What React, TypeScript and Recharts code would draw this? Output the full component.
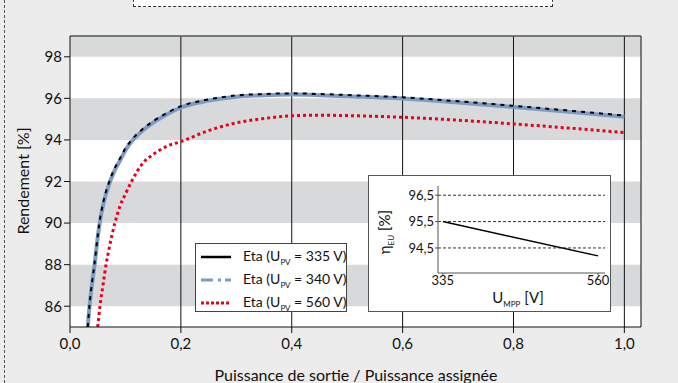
import { LineChart, Line, XAxis, YAxis, CartesianGrid, ReferenceArea, ReferenceLine } from 'recharts';

const FONT = 'Lato, "Open Sans", sans-serif';

const P335_X = [0.032, 0.035, 0.04, 0.044, 0.05, 0.053, 0.06, 0.071, 0.08, 0.09, 0.1, 0.111, 0.13, 0.15, 0.175, 0.2, 0.25, 0.3, 0.35, 0.4, 0.45, 0.5, 0.6, 0.7, 0.8, 0.9, 1.0];
const ETA_335 = [85.0, 86.0, 87.2, 88.0, 89.4, 90.0, 91.0, 92.0, 92.6, 93.1, 93.6, 94.0, 94.5, 94.9, 95.3, 95.62, 95.95, 96.14, 96.21, 96.24, 96.21, 96.16, 96.05, 95.86, 95.64, 95.41, 95.17];
const ETA_340 = [85.0, 85.93, 87.12, 87.92, 89.3, 89.9, 90.9, 91.9, 92.5, 93.0, 93.5, 93.92, 94.43, 94.83, 95.24, 95.56, 95.89, 96.08, 96.15, 96.18, 96.15, 96.1, 95.99, 95.8, 95.58, 95.35, 95.11];

const P560_X = [0.05, 0.054, 0.06, 0.065, 0.07, 0.081, 0.09, 0.1, 0.111, 0.132, 0.15, 0.175, 0.2, 0.25, 0.3, 0.35, 0.4, 0.45, 0.5, 0.6, 0.7, 0.8, 0.9, 1.0];
const ETA_560 = [85.0, 86.0, 87.1, 88.0, 88.7, 90.0, 90.8, 91.4, 92.0, 92.9, 93.3, 93.7, 93.92, 94.45, 94.82, 95.03, 95.16, 95.19, 95.17, 95.09, 94.95, 94.77, 94.57, 94.35];

const X_TICKS = [0, 0.2, 0.4, 0.6, 0.8, 1.0];
const Y_TICKS = [86, 88, 90, 92, 94, 96, 98];
const BANDS: [number, number][] = [[98, 99], [94, 96], [90, 92], [86, 88]];

const U_MPP = [335, 560];
const ETA_EU = [95.5, 94.2];
const INSET_Y_TICKS = [94.5, 95.5, 96.5];

const toRows = (xs: number[], ys: number[]) => xs.map((x, i) => ({ x, y: ys[i] }));
const comma = (v: number, d: number) => v.toFixed(d).replace('.', ',');

const LEGEND = [
  { label: '335 V', color: '#000', dash: undefined as string | undefined, width: 2.5 },
  { label: '340 V', color: '#7d9cc4', dash: '12 5 3 4', width: 3 },
  { label: '560 V', color: '#e8001c', dash: '3 2', width: 3 },
];

export default function App() {
  const d335 = toRows(P335_X, ETA_335);
  const d340 = toRows(P335_X, ETA_340);
  const d560 = toRows(P560_X, ETA_560);
  const inset = toRows(U_MPP, ETA_EU);

  return (
    <div style={{ position: 'absolute', left: 0, top: 0, width: 678, height: 383, background: '#ebeceb', overflow: 'hidden', fontFamily: FONT, color: '#111' }}>
      <div style={{ position: 'absolute', left: 4, top: 0, height: 383, borderLeft: '1px dashed #555' }} />
      <div style={{ position: 'absolute', left: 133, top: -22, width: 420, height: 29, boxSizing: 'border-box', border: '1px dashed #333', background: '#fff', textAlign: 'center', fontSize: 15, lineHeight: '22px', paddingTop: 3 }}>
        Courbe de rendement SUNNY MINI CENTRAL 9000TL
      </div>

      <LineChart width={678} height={383} data={d335} margin={{ top: 36, right: 37, left: 30, bottom: 26 }} style={{ position: 'absolute', left: 0, top: 0 }}>
        <CartesianGrid horizontal={false} vertical={false} fill="#fff" />
        {BANDS.map(([a, b]) => (
          <ReferenceArea key={a} y1={a} y2={b} fill="#d8d9da" fillOpacity={1} stroke="none" ifOverflow="hidden" />
        ))}
        {X_TICKS.slice(1).map((t) => (
          <ReferenceLine key={t} x={t} stroke="#111" strokeWidth={1} />
        ))}
        <ReferenceLine y={99} stroke="#555" strokeWidth={1.5} />
        <ReferenceLine x={1.03} stroke="#555" strokeWidth={1.5} />
        <XAxis
          type="number"
          dataKey="x"
          domain={[0, 1.03]}
          ticks={X_TICKS}
          allowDataOverflow
          height={30}
          tickSize={6}
          tickMargin={5}
          stroke="#111"
          tick={{ fill: '#111', fontSize: 15, fontFamily: FONT }}
          tickFormatter={(v: number) => comma(v, 1)}
        />
        <YAxis
          type="number"
          domain={[85, 99]}
          ticks={Y_TICKS}
          allowDataOverflow
          width={40}
          tickSize={6}
          tickMargin={2}
          stroke="#111"
          tick={{ fill: '#111', fontSize: 15, fontFamily: FONT }}
        />
        <Line data={d340} dataKey="y" type="monotone" stroke="#7d9cc4" strokeWidth={4} dot={false} isAnimationActive={false} />
        <Line data={d335} dataKey="y" type="monotone" stroke="#000" strokeWidth={2} strokeDasharray="4 5" dot={false} isAnimationActive={false} />
        <Line data={d560} dataKey="y" type="monotone" stroke="#e8001c" strokeWidth={3} strokeDasharray="3 3" dot={false} isAnimationActive={false} />
      </LineChart>

      <div style={{ position: 'absolute', left: 22, top: 181, transform: 'translate(-50%, -50%) rotate(-90deg)', fontSize: 16, whiteSpace: 'nowrap' }}>
        Rendement [%]
      </div>
      <div style={{ position: 'absolute', left: 356, top: 374, transform: 'translate(-50%, -50%)', fontSize: 16, whiteSpace: 'nowrap' }}>
        Puissance de sortie / Puissance assignée
      </div>

      <div style={{ position: 'absolute', left: 195, top: 243, width: 152, height: 69, boxSizing: 'border-box', border: '1px solid #444', background: '#fff', fontSize: 14 }}>
        {LEGEND.map((l, i) => (
          <div key={l.label} style={{ position: 'absolute', left: 0, top: 3 + i * 23, height: 20, display: 'flex', alignItems: 'center', whiteSpace: 'nowrap' }}>
            <svg width={40} height={20} style={{ marginLeft: 4 }}>
              <line x1={1} y1={10} x2={31} y2={10} stroke={l.color} strokeWidth={l.width} strokeDasharray={l.dash} />
            </svg>
            <span style={{ marginLeft: 3 }}>
              Eta (U<sub style={{ fontSize: 8 }}>PV</sub> = {l.label})
            </span>
          </div>
        ))}
      </div>

      <div style={{ position: 'absolute', left: 368, top: 175, width: 243, height: 137, boxSizing: 'border-box', border: '1px solid #555', background: '#fff' }}>
        <LineChart width={241} height={135} data={inset} margin={{ top: 10, right: 5, left: 39, bottom: 18 }}>
          <CartesianGrid horizontal vertical={false} stroke="#333" strokeDasharray="3 2" horizontalValues={INSET_Y_TICKS} />
          <XAxis
            type="number"
            dataKey="x"
            domain={[328, 570]}
            ticks={U_MPP}
            height={20}
            tickSize={2}
            tickMargin={1}
            stroke="#555"
            tick={{ fill: '#111', fontSize: 13, fontFamily: FONT }}
          />
          <YAxis
            type="number"
            domain={[93.55, 96.85]}
            ticks={INSET_Y_TICKS}
            width={30}
            tickSize={3}
            tickMargin={1}
            stroke="#555"
            tick={{ fill: '#111', fontSize: 13, fontFamily: FONT }}
            tickFormatter={(v: number) => comma(v, 1)}
          />
          <Line dataKey="y" type="linear" stroke="#000" strokeWidth={1.5} dot={false} isAnimationActive={false} />
        </LineChart>
      </div>
      <div style={{ position: 'absolute', left: 385, top: 232, transform: 'translate(-50%, -50%) rotate(-90deg)', fontSize: 15, whiteSpace: 'nowrap' }}>
        η<sub style={{ fontSize: 8 }}>EU</sub> [%]
      </div>
      <div style={{ position: 'absolute', left: 518, top: 298, transform: 'translate(-50%, -50%)', fontSize: 15, whiteSpace: 'nowrap' }}>
        U<sub style={{ fontSize: 8 }}>MPP</sub> [V]
      </div>
    </div>
  );
}
